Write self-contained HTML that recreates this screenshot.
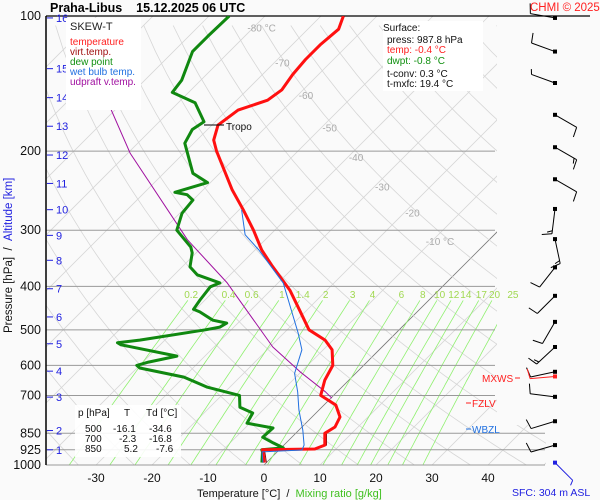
<!DOCTYPE html>
<html><head><meta charset="utf-8"><style>
html,body{margin:0;padding:0;background:#fafafa;}
svg{display:block;font-family:"Liberation Sans",sans-serif;}
</style></head><body>
<svg id="chart" width="600" height="500" viewBox="0 0 600 500" xmlns="http://www.w3.org/2000/svg">
<defs><clipPath id="plotclip"><rect x="46" y="16" width="451" height="449"/><rect x="496" y="425" width="50" height="40"/></clipPath></defs>
<rect width="600" height="500" fill="#fafafa"/>
<g id="bg" clip-path="url(#plotclip)"></g>
<g id="isobars"></g>
<g id="profiles" clip-path="url(#plotclip)"></g>
<g id="axes"></g>
<g id="winds"></g>

<text x="50" y="12" font-size="12.5" font-weight="bold">Praha-Libus&#160;&#160;&#160;&#160;15.12.2025 06 UTC</text>
<text x="530" y="11" font-size="11.5" fill="#ff2020">CHMI © 2025</text>

<g font-size="10">
<rect x="66" y="18" width="75" height="92" fill="#fff"/>
<text x="70" y="30" font-size="11" fill="#222">SKEW-T</text>
<text x="70" y="45" fill="#ff2020">temperature</text>
<text x="70" y="55" fill="#a01010">virt.temp.</text>
<text x="70" y="65" fill="#109010">dew point</text>
<text x="70" y="75" fill="#2070e0">wet bulb temp.</text>
<text x="70" y="85" fill="#a010a0">udpraft v.temp.</text>
</g>

<g font-size="10">
<rect x="383" y="21" width="100" height="70" fill="#fff"/>
<text x="383" y="31" fill="#111">Surface:</text>
<text x="387" y="43" fill="#111">press: 987.8 hPa</text>
<text x="387" y="53" fill="#ff2020">temp: -0.4 °C</text>
<text x="387" y="64" fill="#109010">dwpt: -0.8 °C</text>
<text x="387" y="77" fill="#111">t-conv: 0.3 °C</text>
<text x="387" y="87" fill="#111">t-mxfc: 19.4 °C</text>
</g>

<g font-size="10" fill="#111">
<rect x="75" y="405" width="106" height="52" fill="#fff" fill-opacity="0.9"/>
<text x="78" y="416">p [hPa]</text><text x="124" y="416">T</text><text x="146" y="416">Td [°C]</text>
<text x="85" y="432">500</text><text x="113" y="432">-16.1</text><text x="149" y="432">-34.6</text>
<text x="85" y="442">700</text><text x="119" y="442">-2.3</text><text x="149" y="442">-16.8</text>
<text x="85" y="452">850</text><text x="124" y="452">5.2</text><text x="156" y="452">-7.6</text>
</g>

<g font-size="10">
<line x1="204" y1="125" x2="224" y2="125" stroke="#000"/>
<text x="226" y="130" fill="#111">Tropo</text>
<text x="482" y="382" fill="#ff2020">MXWS</text>
<line x1="515" y1="378" x2="520" y2="378" stroke="#ff2020"/>
<line x1="466" y1="403" x2="471" y2="403" stroke="#ff2020"/>
<text x="472" y="407" fill="#ff2020">FZLV</text>
<line x1="466" y1="429" x2="471" y2="429" stroke="#2070e0"/>
<text x="472" y="433" fill="#2070e0">WBZL</text>
</g>

<text x="512" y="496" font-size="10.5" fill="#2020e0">SFC: 304 m ASL</text>
<text x="197" y="497" font-size="11" fill="#111">Temperature [°C]&#160;&#160;/&#160;&#160;<tspan fill="#40c020">Mixing ratio [g/kg]</tspan></text>
<text transform="translate(12,333) rotate(-90)" font-size="11.5" fill="#111">Pressure [hPa]&#160;&#160;/&#160;&#160;<tspan fill="#2020e0">Altitude [km]</tspan></text>

<script>
const tempP=[988,935,925,921,903,850,823,782,735,700,647,600,554,527,500,452,408,359,332,300,270,244,200,189,175,162,154,146,135,125,116,107,100];
const tempT=[-0.4,-2.5,-3.0,6.2,7.3,5.2,5.9,5.0,2.1,-2.3,-4.3,-5.5,-8.4,-11.4,-16.1,-21.3,-26.6,-34.3,-38.8,-43.8,-49.3,-54.8,-64.5,-67,-68.9,-68,-64.5,-63.8,-64.6,-65,-65,-64.5,-66];
const virtP=[988,935,925,921,903,850];
const virtT=[0.0,-2.2,-2.7,6.5,7.6,5.5];
const dewP=[988,935,925,916,893,867,827,807,766,744,700,671,637,608,600,590,572,540,534,527,500,493,483,476,456,450,429,401,393,377,362,337,327,300,275,257,250,247,235,224,192,179,172,156,148,139,120,111,100];
const dewT=[-0.8,-2.6,-3.1,0.4,-2.3,-5.2,-5,-10.5,-11.3,-14.6,-16.8,-24,-30,-39.5,-40.5,-39,-35,-47,-48,-44.5,-34.6,-32.5,-32,-35,-38.8,-40.4,-40.9,-41.4,-40.4,-45.9,-48.6,-50.7,-52,-57.5,-59.6,-60,-62,-64.6,-60.5,-64.8,-71.6,-72.7,-72,-77,-82.9,-83.4,-86.6,-86.6,-86.4];
const wbP=[988,935,926,903,836,754,688,625,554,508,467,393,332,307,270];
const wbT=[-0.6,-2.7,4.1,3.6,0.7,-3.6,-7,-10.9,-13.8,-17.5,-21.3,-29.1,-39.3,-44.5,-49.6];
const upP=[710,687,620,546,393,315,202,102];
const upT=[0.2,-2.1,-10.2,-19.5,-39.1,-53.9,-79.6,-113.8];
const pressTicks=[100,200,300,400,500,600,700,850,925,1000];
const tempTicks=[-30,-20,-10,0,10,20,30,40];
const altKm=[1,2,3,4,5,6,7,8,9,10,11,12,13,14,15,16];
const altP=[925,838,706,618,537,468,405,350,308,270,236,204,176,152,131,101];
const mixRatios=[0.2,0.4,0.6,1,1.4,2,3,4,6,8,10,12,14,17,20,25];
const isoLabelT=[-80,-70,-60,-50,-40,-30,-20,-10];
const isoLabelP=[106,127,150,177,206,240,274,317];
const windP=[101,120,141,166,196,231,269,314,363,420,480,546,620,705,799,903,988];
const windDir=[280,290,290,120,120,120,187,168,218,225,210,227,258,277,253,254,135];
const windKt=[10,10,5,10,15,10,15,15,10,10,10,15,10,10,10,10,5];
const maxWindP=[635];
const maxWindDir=[265];
const maxWindKt=[10];

const NS='http://www.w3.org/2000/svg';
function Y(p){return 16+449*Math.log10(p/100);}
function X(T,p){return 264+5.6*T+(465-Y(p));}
function mk(parent,tag,attrs){const e=document.createElementNS(NS,tag);for(const k in attrs)e.setAttribute(k,attrs[k]);parent.appendChild(e);return e;}
function path(ps,ts){return ps.map((p,i)=>(i?'L':'M')+X(ts[i],p).toFixed(1)+' '+Y(p).toFixed(1)).join(' ');}
const bg=document.getElementById('bg'),iso=document.getElementById('isobars'),pr=document.getElementById('profiles'),ax=document.getElementById('axes'),wd=document.getElementById('winds');

for(let T=-160;T<=50;T+=10){
  const l=mk(bg,'line',{x1:X(T,1000),y1:Y(1000),x2:X(T,100),y2:Y(100),stroke:T===0?'#777':'#d6d6d6','stroke-width':0.8});
  
  
}
for(let th=230;th<=500;th+=10){
  const ps=[],ts=[];
  for(let p=1050;p>=95;p-=15){ps.push(p);ts.push(th*Math.pow(p/1000,0.286)-273.15);}
  const a=mk(bg,'path',{d:path(ps,ts),fill:'none',stroke:'#d6d6d6','stroke-width':0.8});
  
  
}
function tdFromW(w,p){const e=w*p/(622+w);const l=Math.log(e/6.112);return 243.5*l/(17.67-l);}
mixRatios.forEach(w=>{
  const ps=[],ts=[];
  for(let p=1000;p>=430;p-=10){ps.push(p);ts.push(tdFromW(w,p));}
  const m=mk(bg,'path',{d:path(ps,ts),fill:'none',stroke:'#90f070','stroke-width':0.8});
  
  
  const t=mk(ax,'text',{x:X(tdFromW(w,420),420),y:298,'font-size':10,fill:'#a0d850','text-anchor':'middle'});
  t.textContent=w;
  
  
});
isoLabelT.forEach((T,i)=>{
  const t=mk(ax,'text',{x:X(T,isoLabelP[i])+8,y:Y(isoLabelP[i])+4,'font-size':10,fill:'#aaa','text-anchor':'middle'});
  t.textContent=(i===0||i===isoLabelT.length-1)?T+' °C':T;
  
  
});
pressTicks.forEach(p=>{
  const x2=p>=850?545:495;
  const l=mk(iso,'line',{x1:46,y1:Y(p),x2:x2,y2:Y(p),stroke:p===100?'#000':'#999','stroke-width':p===100?1.2:1});
  if(p===100)l.setAttribute('x2',590);
  
  
  const t=mk(ax,'text',{x:41,y:Y(p)+4,'font-size':12.5,fill:'#111','text-anchor':'end'});
  t.textContent=p;
  
  
});
const yax=mk(ax,'line',{x1:46,y1:16,x2:46,y2:465,stroke:'#000','stroke-width':1.5});


tempTicks.forEach(T=>{
  const t=mk(ax,'text',{x:X(T,1000),y:482,'font-size':12,fill:'#111','text-anchor':'middle'});
  t.textContent=T;
  
  
});
altKm.forEach((k,i)=>{
  const y=Y(altP[i]);
  const l=mk(ax,'line',{x1:47,y1:y,x2:53,y2:y,stroke:'#2020e0'});
  
  
  const t=mk(ax,'text',{x:56,y:y+4,'font-size':11,fill:'#2020e0'});
  t.textContent=k;
  
  
});
function line(ps,ts,color,w,name){
  const e=mk(pr,'path',{d:path(ps,ts),fill:'none',stroke:color,'stroke-width':w,'stroke-linejoin':'round'});
  
  
}
line(upP,upT,'#a010a0',1,'updraft-line');
line(dewP,dewT,'#108810',3,'dew-point-line');
line(virtP,virtT,'#801010',1,'virtual-temp-line');
line(tempP,tempT,'#ff1010',3,'temperature-line');
line(wbP,wbT,'#2070e0',1,'wet-bulb-line');

function barb(p,dir,kt,col,name){
  const y=Y(p),x=555,L=25,a=dir*Math.PI/180;
  const ux=Math.sin(a),uy=-Math.cos(a);
  const ex=x+ux*L,ey=y+uy*L;
  const g=mk(wd,'g',{stroke:col,'stroke-width':1,fill:col});
  
  
  mk(g,'line',{x1:x,y1:y,x2:ex,y2:ey});
  mk(g,'rect',{x:x-1.5,y:y-1.5,width:3,height:3});
  let k=kt,pos=0;
  while(k>=5){
    const full=k>=10,len=full?10:5;
    const bx=ex-ux*pos*3,by=ey-uy*pos*3;
    mk(g,'line',{x1:bx,y1:by,x2:bx+(-uy)*len+ux*2,y2:by+ux*len+uy*2});
    k-=full?10:5;pos++;
  }
}
windP.forEach((p,i)=>barb(p,windDir[i],windKt[i],i===windP.length-1?'#2020e0':'#000','wind-barb'));
maxWindP.forEach((p,i)=>barb(p,maxWindDir[i],maxWindKt[i],'#ff2020','max-wind-barb'));
</script>
</svg>
</body></html>
